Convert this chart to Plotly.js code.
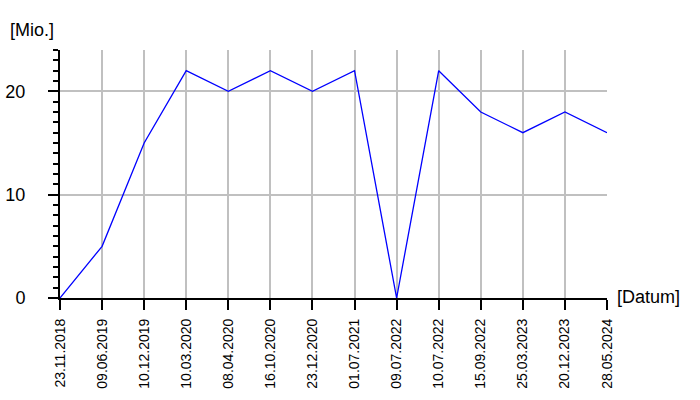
<!DOCTYPE html>
<html>
<head>
<meta charset="utf-8">
<script src="https://cdn.plot.ly/plotly-3.0.1.min.js"></script>
<style>html,body{margin:0;padding:0;background:#fff;}#chart{width:700px;height:400px;}</style>
</head>
<body>
<div id="chart"></div>
<script>
const dates = ["23.11.2018","09.06.2019","10.12.2019","10.03.2020","08.04.2020","16.10.2020","23.12.2020","01.07.2021","09.07.2022","10.07.2022","15.09.2022","25.03.2023","20.12.2023","28.05.2024"];
const values = [0, 5, 15, 22, 20, 22, 20, 22, 0, 22, 18, 16, 18, 16];
const yTicks = [0, 10, 20];
const yUnit = "[Mio.]";
const xUnit = "[Datum]";

const font = "Liberation Sans, Arial, sans-serif";

const trace = {
  x: dates,
  y: values,
  type: "scatter",
  mode: "lines",
  line: {color: "#0000ff", width: 1.3},
  cliponaxis: false,
  hoverinfo: "x+y"
};

const layout = {
  width: 700, height: 400,
  margin: {l: 60, r: 93, t: 50, b: 102},
  paper_bgcolor: "#fff", plot_bgcolor: "#fff",
  showlegend: false,
  xaxis: {
    type: "category",
    range: [0, dates.length - 1],
    showgrid: true, gridcolor: "#c0c0c0", gridwidth: 2,
    showline: true, linecolor: "#000", linewidth: 2,
    ticks: "outside", ticklen: 10, tickwidth: 2, tickcolor: "#000",
    tickangle: -90,
    ticklabelstandoff: 3,
    tickfont: {family: font, size: 14, color: "#000"},
    zeroline: false, fixedrange: true
  },
  yaxis: {
    range: [0, 24],
    tickmode: "array", tickvals: yTicks, ticktext: yTicks.map(String),
    showgrid: true, gridcolor: "#c0c0c0", gridwidth: 2,
    showline: true, linecolor: "#000", linewidth: 2,
    ticks: "outside", ticklen: 10, tickwidth: 2, tickcolor: "#000",
    ticklabelstandoff: 19,
    tickfont: {family: font, size: 18, color: "#000"},
    minor: {tickmode: "linear", tick0: 0, dtick: 1, ticks: "outside", ticklen: 5, tickwidth: 2, tickcolor: "#000", showgrid: false},
    zeroline: false, fixedrange: true
  },
  annotations: [
    {text: yUnit, xref: "paper", yref: "paper", x: -0.0951, y: 1.0806, xanchor: "left", yanchor: "middle", showarrow: false, font: {family: font, size: 18, color: "#000"}},
    {text: xUnit, xref: "paper", yref: "paper", x: 1.0146, y: 0.004, xanchor: "left", yanchor: "middle", showarrow: false, font: {family: font, size: 18, color: "#000"}}
  ]
};

Plotly.newPlot("chart", [trace], layout, {displayModeBar: false, staticPlot: true});
</script>
</body>
</html>
